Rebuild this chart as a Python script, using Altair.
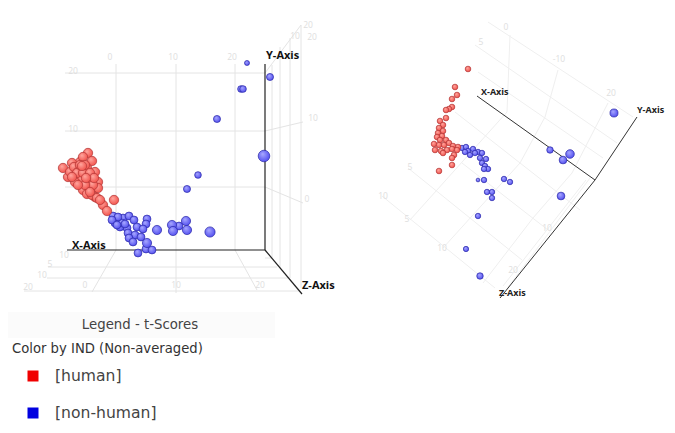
import altair as alt
import pandas as pd

# Projected positions (picture units)
left_red = [(88,153),(92,161),(80,162),(83,157),(63,168),(72,163),(68,177),(70,172),(74,167),(78,172),
            (87,168),(95,172),(82,179),(88,178),(75,182),(98,182),(90,187),(98,188),(83,190),(95,197),
            (87,194),(92,195),(103,205),(107,211),(114,200),(77,173),(83,173),(80,165),(85,165),(90,173),
            (93,185),(85,185),(78,185),(97,198),(100,200),(72,177),(82,166),(94,178),(90,192),(86,178)]
left_blue = [(113,216),(118,222),(123,218),(129,216),(134,220),(147,219),(146,224),(137,227),(143,229),
             (127,228),(120,227),(115,223),(128,233),(135,235),(141,237),(129,238),(133,242),
             (146,249),(152,250),(138,253),(122,223),(125,224),(118,217),(112,220),(117,225),(179,226)]
left_blue_mid = [(186,221),(172,225),(173,231),(187,230),(157,230),(147,243)]
left_blue_big = [(247,63,25),(270,77,50),(241,89,45),(243,89,45),(217,119,50),(264,156,135),(198,175,45),(187,189,50),(210,232,105)]
right_red = [(468,69),(455,87),(457,95),(452,99),(452,107),(449,109),(446,110),(446,118),(440,121),(443,125),
             (439,128),(443,131),(438,133),(442,136),(437,137),(440,140),(446,140),(434,144),(439,145),(444,145),
             (449,143),(453,146),(458,147),(435,150),(441,151),(447,150),(452,149),(457,150),(443,153),(454,155),
             (452,158),(452,165),(439,171)]
right_blue = [(462,148),(466,147),(468,151),(473,149),(478,152),(482,153),(470,155),(480,158),(486,159),(482,163),
              (485,166),(488,169),(484,169),(475,153),(465,152),(484,180),(504,179),(510,182),(487,192),(492,192),(492,198),(478,216)]
right_blue_big = [(478,180,14),(466,249,28),(480,276,42),(561,196,60),(563,160,60),(570,154,75),(550,150,42),(614,113,65)]

grid_segments = [
 (116,64,116,250),(176,64,176,250),(235,64,235,250),(65,73,265,73),(65,131,265,131),(65,187,265,187),
 (48,267,277,267),(47,278,288,278),(24,291,300,291),(116,250,92,292),(176,250,176,293),(235,250,257,290),(265,258,272,258),
 (272,65,272,258),(280,47,280,268),(290,38,290,278),(301,25,301,288),(265,131,303,122),(265,187,303,203),(265,73,301,25)]
grid_segments_right = [
 (488,22,633,117),(475,45,617,143),(478,72,603,158),(455,112,580,210),(462,163,548,230),(408,168,522,260),(382,196,495,288),
 (510,35,507,112),(507,112,410,220),(558,70,545,117),(545,117,520,163),(520,163,443,248),(608,103,572,173),(572,173,533,218),(533,218,483,283),
 (590,178,506,290),(586,180,503,286)]
axis_segments = [(67,250,265,250),(265,64,265,250),(265,250,302,294)]
axis_segments_right = [(477,96,595,180),(637,117,595,180),(595,180,500,298)]
axis_labels = [("X-Axis",72,246),("Y-Axis",266,56),("Z-Axis",302,286)]
axis_labels_right = [("X-Axis",481,92),("Y-Axis",637,110),("Z-Axis",499,293)]
tick_labels = [("0",110,57),("10",173,57),("20",232,57),("20",73,71),("10",73,129),("10",64,255),("5",50,264),("10",42,275),
               ("20",28,287),("0",85,285),("10",176,285),("20",260,285),("20",312,37),("10",295,36),("20",308,25),("10",313,118),("0",307,199),
               ("0",506,27),("5",481,42),("-10",559,59),("20",611,93),("5",410,167),("10",383,196),("5",407,219),("10",442,248),("10",547,228),("20",513,270)]
legend_title = ("Legend - t-Scores",140,325)
legend_subtitle = ("Color by IND (Non-averaged)",12,349)
legend_items = [("[human]",33,376,55,"#f00000"),("[non-human]",33,413,55,"#0000e0")]
legend_band = [(8,275,312,338)]

X = alt.Scale(domain=[8,667])
Y = alt.Scale(domain=[425,8])
xe = lambda f="x": alt.X(f, type="quantitative", scale=X, axis=None)
ye = lambda f="y": alt.Y(f, type="quantitative", scale=Y, axis=None)

def sphere(c0, c1, edge, data):
    g = {"gradient":"radial","x1":.38,"y1":.32,"r1":0,"x2":.45,"y2":.45,"r2":.62,
         "stops":[{"offset":0,"color":c0},{"offset":1,"color":c1}]}
    return alt.Chart(pd.DataFrame(data, columns=["x","y","s"])).mark_point(
        filled=True, fill=g, stroke=edge, strokeWidth=.7, opacity=1
    ).encode(x=xe(), y=ye(), size=alt.Size("s:Q", scale=None, legend=None))

def segs(data, color, w):
    return alt.Chart(pd.DataFrame(data, columns=["x","y","x2","y2"])).mark_rule(color=color, strokeWidth=w).encode(
        x=xe(), y=ye(), x2="x2:Q", y2="y2:Q")

def texts(data, color, size, weight="normal", font="Open Sans", align="left"):
    return alt.Chart(pd.DataFrame(data, columns=["t","x","y"])).mark_text(
        color=color, fontSize=size, fontWeight=weight, font=font, align=align, baseline="middle"
    ).encode(x=xe(), y=ye(), text="t:N")

RED = ("#ffa8a0","#f04a44","#b03434")
BLUE = ("#aaaaff","#4c48ee","#2a28a8")

band = alt.Chart(pd.DataFrame(legend_band, columns=["x","x2","y","y2"])).mark_rect(color="#fbfbfb").encode(
    x=xe(), x2="x2:Q", y=ye(), y2="y2:Q")
squares = alt.Chart(pd.DataFrame(legend_items, columns=["t","x","y","tx","c"])).mark_square(size=121, opacity=1).encode(
    x=xe(), y=ye(), color=alt.Color("c:N", scale=None, legend=None))
item_text = alt.Chart(pd.DataFrame(legend_items, columns=["t","x","y","tx","c"])).mark_text(
    fontSize=15.6, font="DejaVu Sans", align="left", baseline="middle", color="#444444"
).encode(x=xe("tx"), y=ye(), text="t:N")

chart = alt.layer(
    band,
    segs(grid_segments, "#e4e4e4", 1),
    segs(grid_segments_right, "#efefef", 1),
    segs(axis_segments, "#222222", 1.2),
    segs(axis_segments_right, "#333333", 1),
    texts(tick_labels, "#dedede", 8.5, align="center"),
    sphere(*BLUE, [(x,y,62) for x,y in left_blue]),
    sphere(*BLUE, [(x,y,85) for x,y in left_blue_mid]),
    sphere(*RED, [(x,y,88) for x,y in left_red]),
    sphere(*BLUE, left_blue_big),
    sphere(*BLUE, [(x,y,30) for x,y in right_blue]),
    sphere(*RED, [(x,y,32) for x,y in right_red]),
    sphere(*BLUE, right_blue_big),
    texts(axis_labels, "#111111", 11, weight="bold"),
    texts(axis_labels_right, "#222222", 9, weight="bold"),
    texts([legend_title], "#444444", 13.3, font="DejaVu Sans", align="center"),
    texts([legend_subtitle], "#333333", 13.2, font="DejaVu Sans"),
    squares, item_text,
).properties(width=659, height=417, padding=0).configure_view(stroke=None)

chart.save("out.html", embed_options={"renderer":"svg","actions":False})
